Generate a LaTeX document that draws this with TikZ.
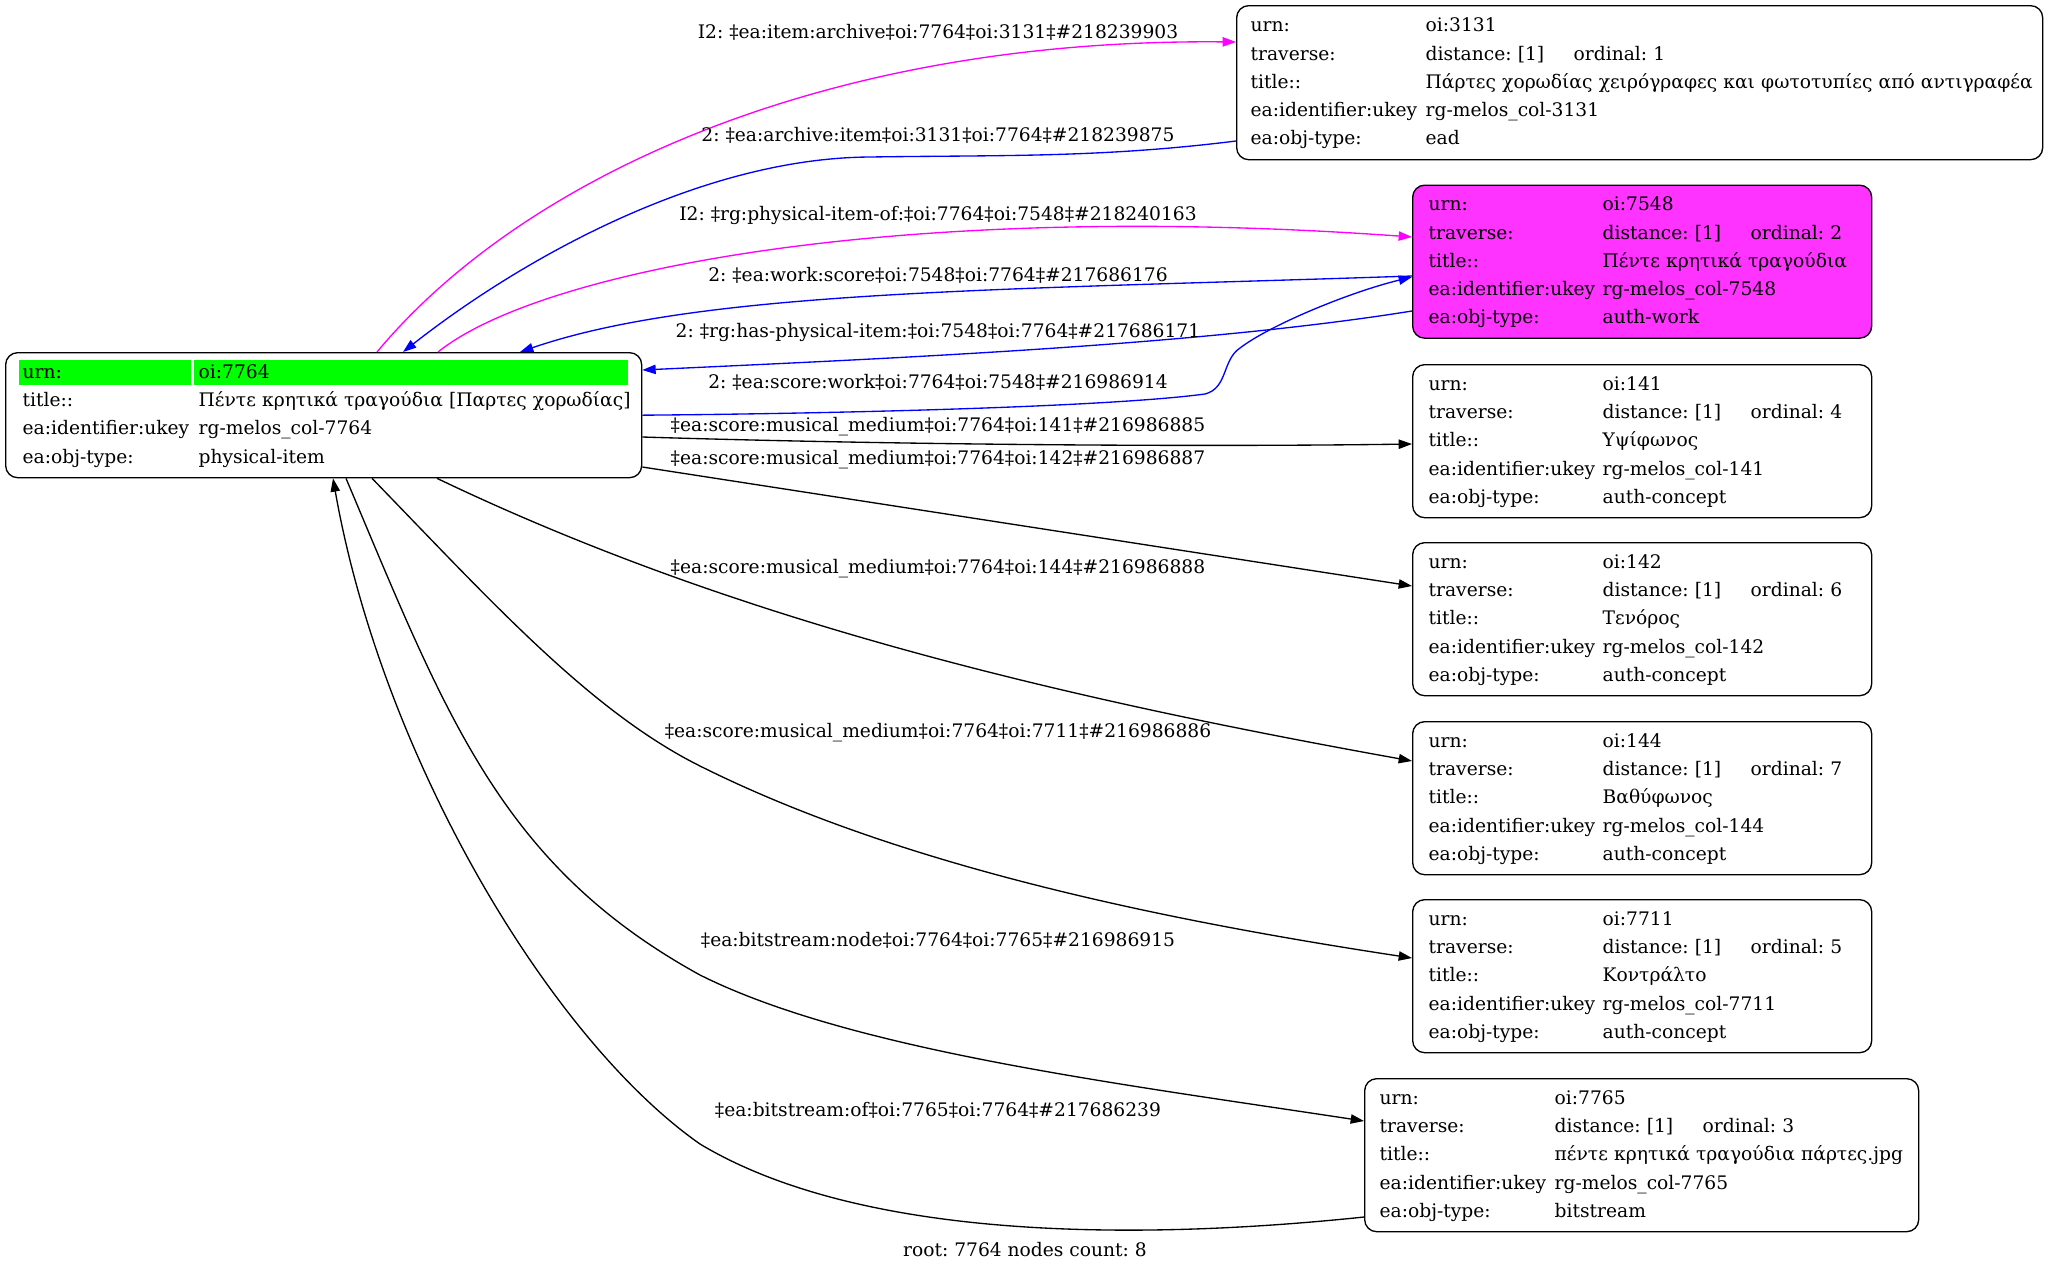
\documentclass[tikz,border=0pt]{standalone}
\usepackage{fontspec}
\setmainfont{DejaVu Serif}
\usetikzlibrary{arrows.meta,calc}
\definecolor{mag}{HTML}{FF00FF}
\definecolor{blu}{HTML}{0000FF}
\definecolor{pinkfill}{HTML}{FF33FF}
\definecolor{grn}{HTML}{00FF00}
\newcommand{\ordcell}[1]{\makebox[111pt][l]{distance: [1]}ordinal: #1}
\frenchspacing
\begin{document}
\frenchspacing
\begin{tikzpicture}[x=0.75pt,y=-0.75pt,
  every node/.style={font=\fontsize{14pt}{21.2pt}\selectfont\frenchspacing},
  box/.style={draw, line width=1pt, rounded corners=9pt, anchor=north west, align=left, inner ysep=0pt, minimum height=114.75pt},
  kid/.style={box, text width=320.25pt, inner xsep=12pt},
  edge/.style={line width=1pt, -{Triangle[length=10pt,width=7pt]}},
  lbl/.style={inner sep=0pt}]
\useasboundingbox (0,0) rectangle (2051,1272);

% root node
\fill[grn] (19,360) rectangle (191,385);
\fill[grn] (194,360) rectangle (628,385);
\node[box, text width=451.5pt, inner xsep=12.75pt, minimum height=93.75pt] (n7764) at (5,352) {\begin{tabular}{@{}p{132pt}@{}l@{}}
urn: & oi:7764\\
title:: & Πέντε κρητικά τραγούδια [Παρτες χορωδίας]\\
ea:identifier:ukey & rg-melos\_col-7764\\
ea:obj-type: & physical-item
\end{tabular}};

\node[box, text width=583.5pt, inner xsep=10.5pt, minimum height=115.5pt] (n3131) at (1236,5) {\begin{tabular}{@{}p{131.25pt}@{}l@{}}
urn: & oi:3131\\
traverse: & \ordcell{1}\\
title:: & Πάρτες χορωδίας χειρόγραφες και φωτοτυπίες από αντιγραφέα\\
ea:identifier:ukey & rg-melos\_col-3131\\
ea:obj-type: & ead
\end{tabular}};

\node[kid, fill=pinkfill] (n7548) at (1412,184.5) {\begin{tabular}{@{}p{130.5pt}@{}l@{}}
urn: & oi:7548\\
traverse: & \ordcell{2}\\
title:: & Πέντε κρητικά τραγούδια\\
ea:identifier:ukey & rg-melos\_col-7548\\
ea:obj-type: & auth-work
\end{tabular}};

\node[kid] (n141) at (1412,364) {\begin{tabular}{@{}p{130.5pt}@{}l@{}}
urn: & oi:141\\
traverse: & \ordcell{4}\\
title:: & Υψίφωνος\\
ea:identifier:ukey & rg-melos\_col-141\\
ea:obj-type: & auth-concept
\end{tabular}};

\node[kid] (n142) at (1412,542) {\begin{tabular}{@{}p{130.5pt}@{}l@{}}
urn: & oi:142\\
traverse: & \ordcell{6}\\
title:: & Τενόρος\\
ea:identifier:ukey & rg-melos\_col-142\\
ea:obj-type: & auth-concept
\end{tabular}};

\node[kid] (n144) at (1412,721) {\begin{tabular}{@{}p{130.5pt}@{}l@{}}
urn: & oi:144\\
traverse: & \ordcell{7}\\
title:: & Βαθύφωνος\\
ea:identifier:ukey & rg-melos\_col-144\\
ea:obj-type: & auth-concept
\end{tabular}};

\node[kid] (n7711) at (1412,899) {\begin{tabular}{@{}p{130.5pt}@{}l@{}}
urn: & oi:7711\\
traverse: & \ordcell{5}\\
title:: & Κοντράλτο\\
ea:identifier:ukey & rg-melos\_col-7711\\
ea:obj-type: & auth-concept
\end{tabular}};

\node[box, text width=393pt, inner xsep=11.25pt] (n7765) at (1364,1078) {\begin{tabular}{@{}p{131.25pt}@{}l@{}}
urn: & oi:7765\\
traverse: & \ordcell{3}\\
title:: & πέντε κρητικά τραγούδια πάρτες.jpg\\
ea:identifier:ukey & rg-melos\_col-7765\\
ea:obj-type: & bitstream
\end{tabular}};

% edges
\draw[edge, mag] ($(n7764.north west)+(372,0)$) .. controls (520,180) and (820,38) .. ($(n3131.north west)+(0,37)$);
\draw[edge, blu] ($(n3131.north west)+(0,136)$) .. controls (1100,158) and (1000,155) .. (870,157) .. controls (700,158) and (520,260) .. ($(n7764.north west)+(398,0)$);
\draw[edge, mag] ($(n7764.north west)+(433,0)$) .. controls (540,270) and (900,200) .. ($(n7548.north west)+(0,52.5)$);
\draw[edge, blu] (n7764.east) .. controls (800,414) and (1100,408) .. (1205,394) .. controls (1228,388) and (1222,360) .. (1240,348) .. controls (1270,325) and (1350,292) .. ($(n7548.north west)+(0,92.5)$);
\draw[edge, blu] ($(n7548.north west)+(0,91.5)$) .. controls (1000,290) and (700,290) .. ($(n7764.north west)+(515,0)$);
\draw[edge, blu] ($(n7548.north west)+(0,126.5)$) .. controls (1200,345) and (900,358) .. ($(n7764.north east)+(0,18)$);
\draw[edge] ($(n7764.north east)+(0,85)$) .. controls (900,445) and (1200,447) .. ($(n141.north west)+(0,80)$);
\draw[edge] ($(n7764.north east)+(0,115)$) -- ($(n142.north west)+(0,44)$);
\draw[edge] ($(n7764.south west)+(432,0)$) .. controls (737,622) and (1062,698) .. ($(n144.north west)+(0,40)$);
\draw[edge] ($(n7764.south west)+(367,0)$) .. controls (492,602) and (590,711) .. (700,766) .. controls (900,866) and (1162,920) .. ($(n7711.north west)+(0,59)$);
\draw[edge] ($(n7764.south west)+(341,0)$) .. controls (446,715) and (500,865) .. (700,975) .. controls (850,1050) and (1114,1083) .. ($(n7765.north west)+(0,43)$);
\draw[edge] ($(n7765.north west)+(0,139)$) .. controls (1164,1238) and (870,1246) .. (700,1144) .. controls (550,1039) and (382,757) .. ($(n7764.south west)+(328,0)$);

% labels
\node[lbl] (l1) at (938,32) {I2: ‡ea:item:archive‡oi:7764‡oi:3131‡\#218239903};
\node[lbl] (l2) at (938,135) {2: ‡ea:archive:item‡oi:3131‡oi:7764‡\#218239875};
\node[lbl] (l3) at (938,215) {I2: ‡rg:physical-item-of:‡oi:7764‡oi:7548‡\#218240163};
\node[lbl] (l4) at (938,275) {2: ‡ea:work:score‡oi:7548‡oi:7764‡\#217686176};
\node[lbl] (l5) at (938,332) {2: ‡rg:has-physical-item:‡oi:7548‡oi:7764‡\#217686171};
\node[lbl] (l6) at (938,382) {2: ‡ea:score:work‡oi:7764‡oi:7548‡\#216986914};
\node[lbl] (l7) at (938,427) {‡ea:score:musical\_medium‡oi:7764‡oi:141‡\#216986885};
\node[lbl] (l8) at (938,460) {‡ea:score:musical\_medium‡oi:7764‡oi:142‡\#216986887};
\node[lbl] (l9) at (938,569) {‡ea:score:musical\_medium‡oi:7764‡oi:144‡\#216986888};
\node[lbl] (l10) at (938,733) {‡ea:score:musical\_medium‡oi:7764‡oi:7711‡\#216986886};
\node[lbl] (l11) at (938,940) {‡ea:bitstream:node‡oi:7764‡oi:7765‡\#216986915};
\node[lbl] (l12) at (938,1110) {‡ea:bitstream:of‡oi:7765‡oi:7764‡\#217686239};
\node[lbl] (footer) at (1025,1250) {root: 7764 nodes count: 8};
\end{tikzpicture}
\end{document}
